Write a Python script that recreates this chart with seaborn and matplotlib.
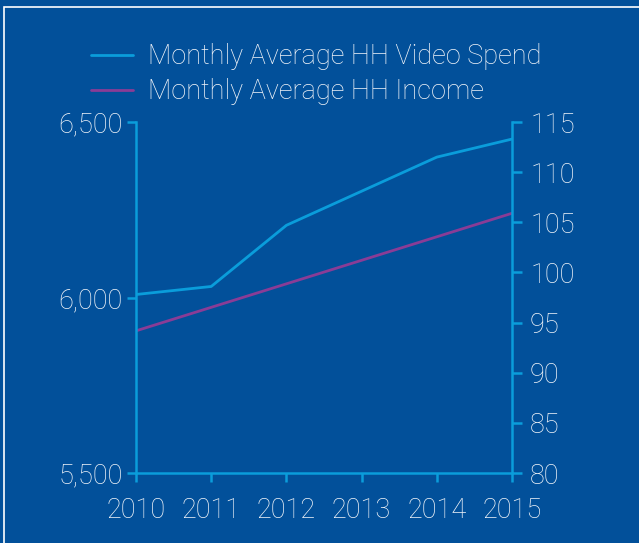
import numpy as np
import pandas as pd
import matplotlib
matplotlib.use('Agg')
import matplotlib.pyplot as plt
import matplotlib.patches as patches
import seaborn as sns

# 数据
years = [2010, 2011, 2012, 2013, 2014, 2015]
video_spend = [97.8, 98.6, 104.7, 108.1, 111.5, 113.3]   # 右轴
hh_income = [5905, 5972, 6039, 6106, 6173, 6240]         # 左轴
left_ticks = [5500, 6000, 6500]
right_ticks = [80, 85, 90, 95, 100, 105, 110, 115]

bg = '#02509A'
cyan = '#0A9DDB'
purple = '#8A3C96'
txt = '#F4F6FA'

sns.set_style('white')
plt.rcParams['font.family'] = ['Roboto', 'DejaVu Sans']
plt.rcParams['font.weight'] = 'light'
fs = 19.5

df = pd.DataFrame({'year': years, 'spend': video_spend, 'income': hh_income})

fig = plt.figure(figsize=(6.39, 5.43), dpi=100, facecolor=bg)
ax = fig.add_axes([0.2128, 0.1289, 0.5885, 0.6464])
ax.set_facecolor(bg)
ax2 = ax.twinx()

sns.lineplot(data=df, x='year', y='income', ax=ax, color=purple, linewidth=2,
             label='Monthly Average HH Income', legend=False)
sns.lineplot(data=df, x='year', y='spend', ax=ax2, color=cyan, linewidth=2,
             label='Monthly Average HH Video Spend', legend=False)

ax.set_xlim(2010, 2015)
ax.set_ylim(5500, 6500)
ax2.set_ylim(80, 115)
ax.set_xticks(years)
ax.set_yticks(left_ticks)
ax.set_yticklabels([f'{v:,}' for v in left_ticks])
ax2.set_yticks(right_ticks)
ax.set_xlabel('')
ax.set_ylabel('')
ax2.set_ylabel('')

for a in (ax, ax2):
    a.spines['top'].set_visible(False)
    for side in ['left', 'right', 'bottom']:
        a.spines[side].set_color(cyan)
        a.spines[side].set_linewidth(1.8)
ax.spines['right'].set_visible(False)
ax2.spines['left'].set_visible(False)
ax2.spines['bottom'].set_visible(False)

ax.tick_params(axis='y', direction='out', length=6.5, width=1.8, color=cyan,
               labelcolor=txt, labelsize=fs, pad=3, left=True)
ax.tick_params(axis='x', direction='out', length=6.5, width=1.8, color=cyan,
               labelcolor=txt, labelsize=fs, pad=11, bottom=True)
ax2.tick_params(axis='y', direction='out', length=7, width=1.8, color=cyan,
                labelcolor=txt, labelsize=fs, pad=6, right=True)

# 图例
h1, l1 = ax2.get_legend_handles_labels()
h2, l2 = ax.get_legend_handles_labels()
leg = fig.legend(h1 + h2, l1 + l2, loc='upper left', bbox_to_anchor=(0.125, 0.94),
                 frameon=False, fontsize=fs, handlelength=1.55, handletextpad=0.55,
                 labelspacing=0.28, borderaxespad=0)
for t in leg.get_texts():
    t.set_color(txt)

# 白色边框
fig.patches.append(patches.Rectangle((4 / 639, -0.05), 1.1, 1 - 7 / 543 + 0.05,
                                     transform=fig.transFigure, fill=False,
                                     edgecolor='white', linewidth=1.2))

fig.savefig('out.png', dpi=100, facecolor=bg)
